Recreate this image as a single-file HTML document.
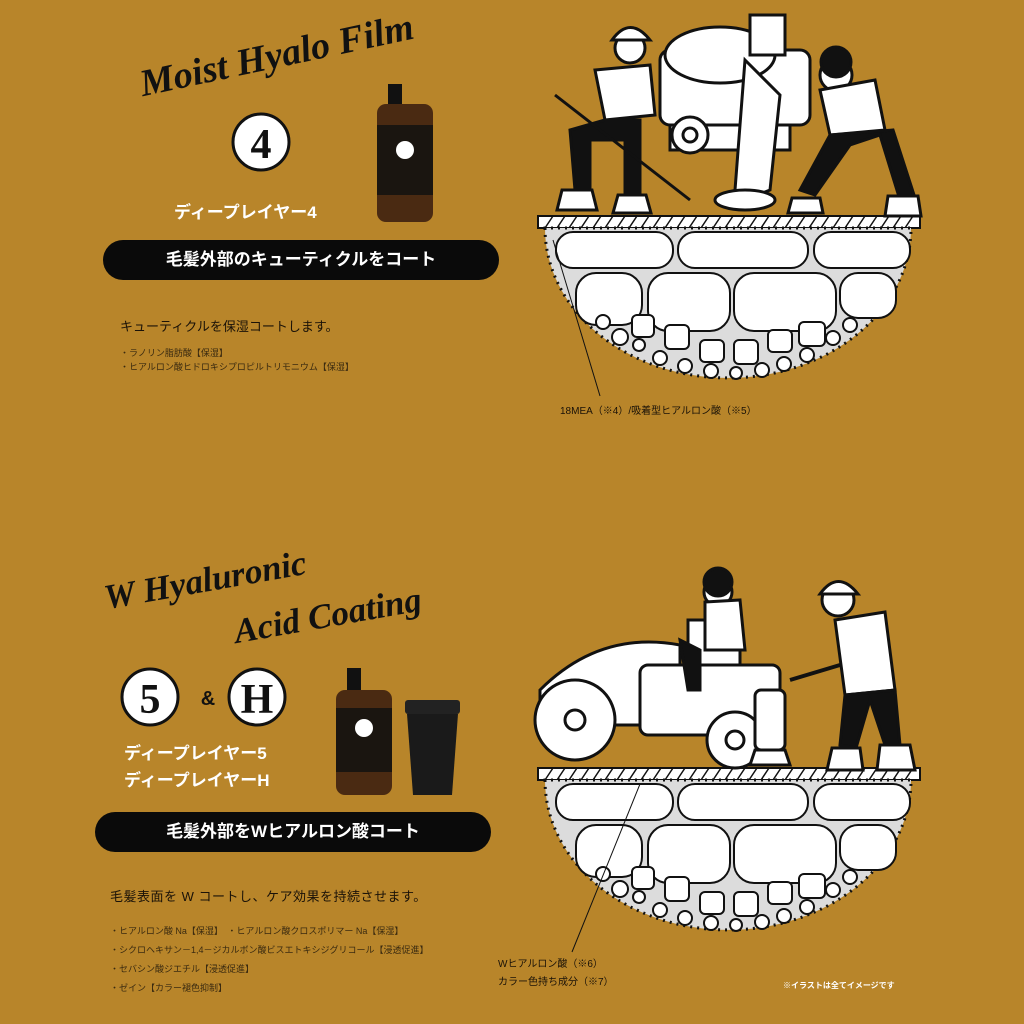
<!DOCTYPE html>
<html><head><meta charset="utf-8"><style>
body{margin:0;width:1024px;height:1024px;background:#b8852a;overflow:hidden;position:relative;font-family:"Liberation Sans","Noto Sans CJK JP",sans-serif}
.a{position:absolute;white-space:nowrap}
.script{font-family:"Liberation Serif",serif;font-style:italic;font-weight:bold;color:#111}
.pill{position:absolute;background:#0a0a0a;color:#fff;border-radius:22px;font-weight:bold;font-size:17px;text-align:center}
.small{font-size:9px;color:#3a2a10;line-height:14px}
</style></head><body>
<div class="a script" style="left:145px;top:62px;font-size:38px;transform:rotate(-12deg);transform-origin:left bottom">Moist Hyalo Film</div>
<svg class="a" style="left:0;top:0" width="1024" height="1024">
<defs>
<g id="ground">
<rect x="538" y="216" width="382" height="12" fill="#fff" stroke="#111" stroke-width="2"/>
<g stroke="#111" stroke-width="1.5">
<path d="M545,228l8,-12M557,228l8,-12M569,228l8,-12M581,228l8,-12M593,228l8,-12M605,228l8,-12M617,228l8,-12M629,228l8,-12M641,228l8,-12M653,228l8,-12M665,228l8,-12M677,228l8,-12M689,228l8,-12M701,228l8,-12M713,228l8,-12M725,228l8,-12M737,228l8,-12M749,228l8,-12M761,228l8,-12M773,228l8,-12M785,228l8,-12M797,228l8,-12M809,228l8,-12M821,228l8,-12M833,228l8,-12M845,228l8,-12M857,228l8,-12M869,228l8,-12M881,228l8,-12M893,228l8,-12M905,228l8,-12"/>
</g>
<path d="M545,228 A183,150 0 0 0 911,228 Z" fill="#dcdcdc" stroke="#111" stroke-width="3" stroke-dasharray="2 5"/>
<g fill="#fff" stroke="#111" stroke-width="2">
<rect x="556" y="232" width="117" height="36" rx="17"/>
<rect x="678" y="232" width="130" height="36" rx="17"/>
<rect x="814" y="232" width="96" height="36" rx="17"/>
<rect x="576" y="273" width="66" height="52" rx="20"/>
<rect x="648" y="273" width="82" height="58" rx="20"/>
<rect x="734" y="273" width="102" height="58" rx="20"/>
<rect x="840" y="273" width="56" height="45" rx="18"/>
</g>
<g fill="#fff" stroke="#111" stroke-width="2">
<circle cx="603" cy="322" r="7"/><circle cx="620" cy="337" r="8"/><circle cx="639" cy="345" r="6"/><circle cx="660" cy="358" r="7"/><circle cx="685" cy="366" r="7"/><circle cx="711" cy="371" r="7"/><circle cx="736" cy="373" r="6"/><circle cx="762" cy="370" r="7"/><circle cx="784" cy="364" r="7"/><circle cx="807" cy="355" r="7"/><circle cx="833" cy="338" r="7"/><circle cx="850" cy="325" r="7"/>
<rect x="632" y="315" width="22" height="22" rx="5"/><rect x="665" y="325" width="24" height="24" rx="5"/><rect x="700" y="340" width="24" height="22" rx="5"/><rect x="734" y="340" width="24" height="24" rx="5"/><rect x="768" y="330" width="24" height="22" rx="5"/><rect x="799" y="322" width="26" height="24" rx="5"/>
</g>
</g>
</defs>
<use href="#ground"/>
<use href="#ground" transform="translate(0,552)"/>
<line x1="553" y1="240" x2="600" y2="396" stroke="#111"/>
<line x1="640" y1="784" x2="572" y2="952" stroke="#111"/>
<g fill="#fff" stroke="#111" stroke-width="3">
<rect x="660" y="50" width="150" height="75" rx="10"/>
<ellipse cx="720" cy="55" rx="55" ry="28"/>
<rect x="750" y="15" width="35" height="40"/>
<rect x="670" y="125" width="120" height="25"/>
<circle cx="690" cy="135" r="18"/><circle cx="690" cy="135" r="7"/>
<path d="M745,60 L780,95 L770,190 L745,200 L735,190 Z"/>
<ellipse cx="745" cy="200" rx="30" ry="10"/>
<circle cx="630" cy="48" r="15"/>
<path d="M612,40 q18,-25 38,0 z" fill="#fff"/>
<path d="M595,70 L650,65 L655,115 L605,120 Z"/>
<path d="M605,120 L570,130 L575,190 L590,190 L590,140 L625,140 L625,195 L640,195 L640,120 Z" fill="#111"/>
<path d="M562,190 l30,0 l5,20 l-40,0z"/><path d="M618,195 l28,0 l5,18 l-38,0z"/>
<line x1="555" y1="95" x2="690" y2="200" stroke-width="3"/>
<circle cx="836" cy="75" r="16"/><circle cx="836" cy="62" r="15" fill="#111"/>
<path d="M820,90 L875,80 L885,130 L830,135 Z"/>
<path d="M830,135 L800,190 L815,195 L850,145 L880,135 L900,200 L915,198 L893,130 Z" fill="#111"/>
<path d="M792,198 l28,0 l3,15 l-35,0z"/><path d="M888,196 l30,0 l3,20 l-36,0z"/>
</g>
<g fill="#fff" stroke="#111" stroke-width="3">
<path d="M540,690 q60,-60 140,-45 l0,80 l-140,0 z"/>
<circle cx="575" cy="720" r="40"/><circle cx="575" cy="720" r="10"/>
<rect x="640" y="665" width="140" height="70" rx="8"/>
<rect x="688" y="620" width="52" height="45"/>
<circle cx="735" cy="740" r="28"/><circle cx="735" cy="740" r="9"/>
<circle cx="718" cy="592" r="14"/><circle cx="718" cy="582" r="14" fill="#111"/>
<path d="M705,602 L740,600 L745,650 L705,650 Z"/>
<path d="M680,640 L700,650 L700,690 L688,690 Z" fill="#111"/>
<rect x="755" y="690" width="30" height="60" rx="6"/>
<path d="M755,750 l30,0 l5,15 l-40,0z"/>
<circle cx="838" cy="600" r="16"/>
<path d="M820,594 q18,-25 38,0 z"/>
<path d="M835,620 L885,612 L895,690 L845,695 Z"/>
<path d="M845,695 L840,745 L856,748 L870,700 L885,745 L900,745 L895,690 Z" fill="#111"/>
<path d="M832,748 l28,0 l3,22 l-36,0z"/><path d="M880,745 l30,0 l5,25 l-38,0z"/>
<line x1="790" y1="680" x2="840" y2="665" stroke-width="4"/>
</g>
<circle cx="261" cy="142" r="28" fill="#fff" stroke="#111" stroke-width="3"/>
<text x="261" y="158" text-anchor="middle" font-family="Liberation Serif" font-weight="bold" font-size="42" fill="#111">4</text>
<circle cx="150" cy="697" r="28" fill="#fff" stroke="#111" stroke-width="3"/>
<text x="150" y="713" text-anchor="middle" font-family="Liberation Serif" font-weight="bold" font-size="42" fill="#111">5</text>
<circle cx="257" cy="697" r="28" fill="#fff" stroke="#111" stroke-width="3"/>
<text x="257" y="713" text-anchor="middle" font-family="Liberation Serif" font-weight="bold" font-size="42" fill="#111">H</text>
<text x="208" y="705" text-anchor="middle" font-family="Liberation Sans" font-weight="bold" font-size="20" fill="#111">&amp;</text>
<g>
<rect x="388" y="84" width="14" height="20" fill="#111"/>
<rect x="377" y="104" width="56" height="118" rx="9" fill="#4a2a12"/>
<rect x="377" y="125" width="56" height="70" fill="#1a1510"/>
<circle cx="405" cy="150" r="9" fill="#fff"/>
<rect x="347" y="668" width="14" height="22" fill="#111"/>
<rect x="336" y="690" width="56" height="105" rx="9" fill="#4a2a12"/>
<rect x="336" y="708" width="56" height="64" fill="#1a1510"/>
<circle cx="364" cy="728" r="9" fill="#fff"/>
<rect x="405" y="700" width="55" height="14" rx="3" fill="#222"/>
<path d="M407,714 L458,714 L452,795 L413,795 Z" fill="#1a1a1a"/>
</g>
</svg>
<div class="a" style="left:174px;top:198px;color:#fff;font-weight:bold;font-size:17px">ディープレイヤー4</div>
<div class="pill" style="left:103px;top:240px;width:396px;height:40px;line-height:40px">毛髪外部のキューティクルをコート</div>
<div class="a" style="left:120px;top:316px;font-size:13px;color:#1a1208">キューティクルを保湿コートします。</div>
<div class="a small" style="left:120px;top:346px">・ラノリン脂肪酸【保湿】<br>・ヒアルロン酸ヒドロキシプロピルトリモニウム【保湿】</div>
<div class="a" style="left:560px;top:402px;font-size:10px;color:#1a1208">18MEA（※4）/吸着型ヒアルロン酸（※5）</div>
<div class="a script" style="left:108px;top:578px;font-size:35px;transform:rotate(-10deg);transform-origin:left bottom">W Hyaluronic</div>
<div class="a script" style="left:238px;top:612px;font-size:35px;transform:rotate(-10deg);transform-origin:left bottom">Acid Coating</div>
<div class="a" style="left:124px;top:740px;color:#fff;font-weight:bold;font-size:17px;line-height:27px">ディープレイヤー5<br>ディープレイヤーH</div>
<div class="pill" style="left:95px;top:812px;width:396px;height:40px;line-height:40px">毛髪外部をWヒアルロン酸コート</div>
<div class="a" style="left:110px;top:886px;font-size:13px;color:#1a1208;letter-spacing:0.5px">毛髪表面を W コートし、ケア効果を持続させます。</div>
<div class="a small" style="left:110px;top:922px;line-height:19px">・ヒアルロン酸 Na【保湿】　・ヒアルロン酸クロスポリマー Na【保湿】<br>・シクロヘキサン－1,4－ジカルボン酸ビスエトキシジグリコール【浸透促進】<br>・セバシン酸ジエチル【浸透促進】<br>・ゼイン【カラー褪色抑制】</div>
<div class="a" style="left:498px;top:956px;font-size:10px;color:#1a1208;line-height:18px">Wヒアルロン酸（※6）<br>カラー色持ち成分（※7）</div>
<div class="a" style="left:783px;top:980px;font-size:8px;color:#fff;font-weight:bold">※イラストは全てイメージです</div>
</body></html>
